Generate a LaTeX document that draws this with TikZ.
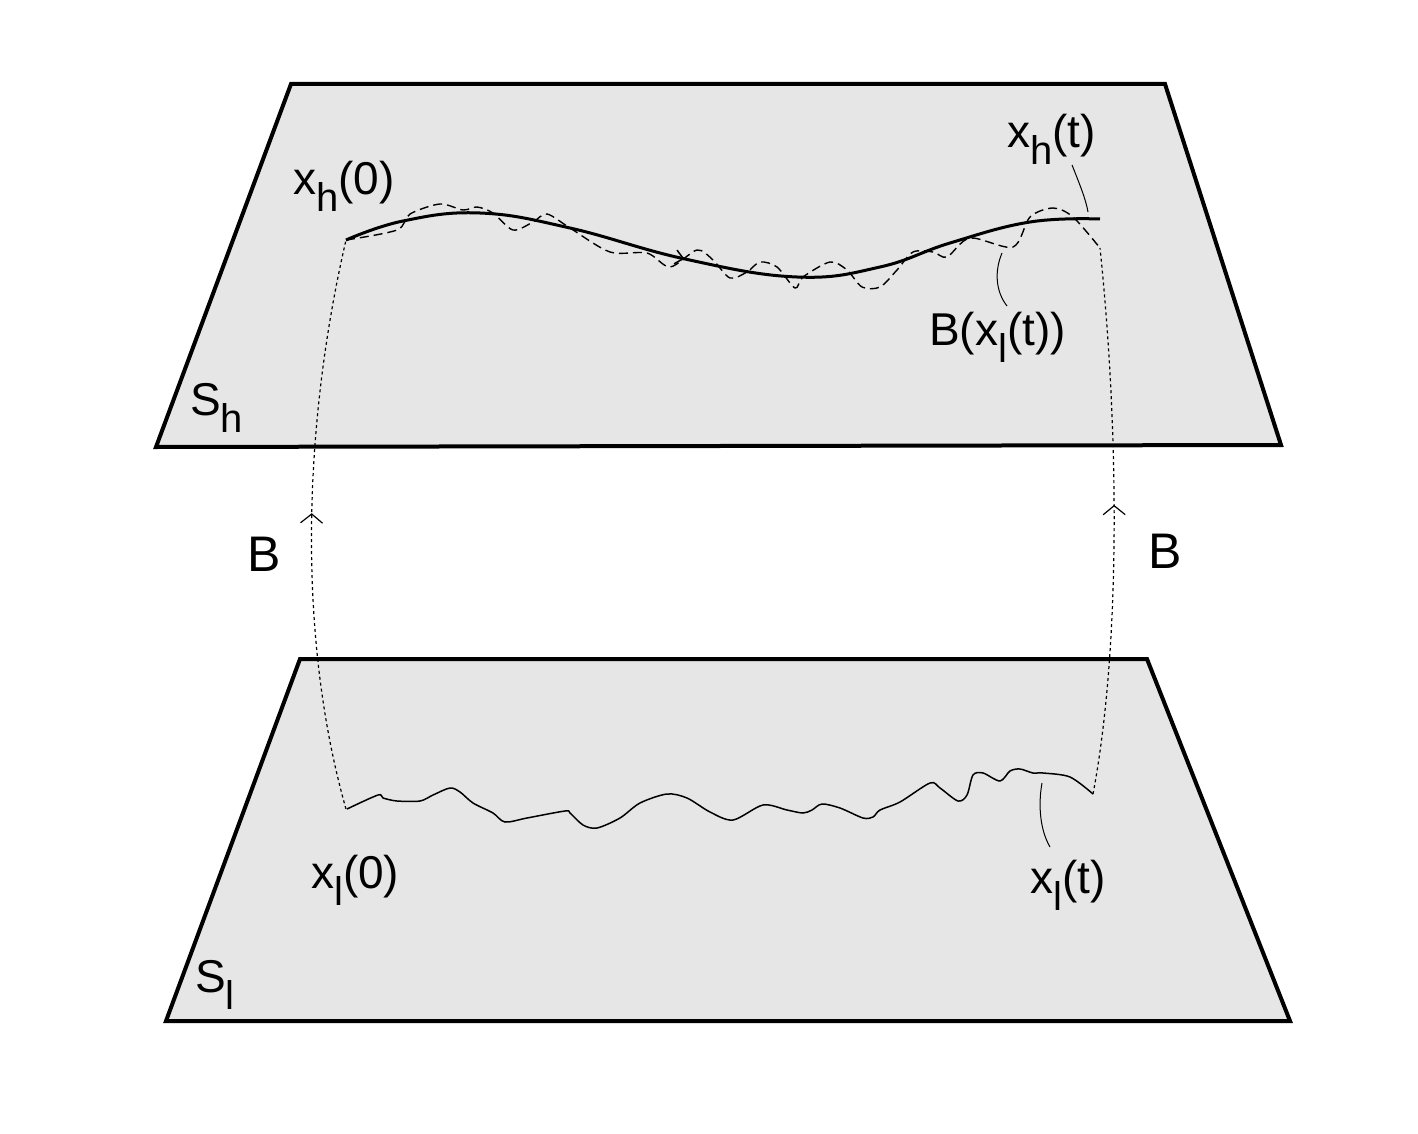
\documentclass[tikz,border=0pt]{standalone}
\usepackage{fontspec}
\setmainfont{Liberation Sans}
\usetikzlibrary{arrows.meta,decorations.markings}
\newcommand{\lowsub}[1]{\raisebox{-17pt}{\fontsize{40}{40}\selectfont #1}}
\tikzset{
  plane/.style={draw=black,fill=planegray,line width=4pt,line join=miter},
  label/.style={anchor=base west,inner sep=0pt,font=\fontsize{46}{50}\selectfont},
  bigb/.style={anchor=base west,inner sep=0pt,font=\fontsize{50}{54}\selectfont},
  smoothcurve/.style={line width=3pt},
  noisy/.style={line width=1.4pt,dash pattern=on 9pt off 5pt},
  wiggle/.style={line width=1.5pt},
  mapline/.style={line width=1.2pt,dash pattern=on 3pt off 3pt},
  leader/.style={line width=1pt},
}
\definecolor{planegray}{HTML}{E6E6E6}
\begin{document}
\begin{tikzpicture}[x=1pt,y=-1pt]
\useasboundingbox (0,0) rectangle (1418,1134);
\fill[white] (0,0) rectangle (1418,1134);
% planes
\draw[plane] (291,84) -- (1165,84) -- (1281,445) -- (156,447) -- cycle;
\draw[plane] (300,659) -- (1147,659) -- (1290,1021) -- (166,1021) -- cycle;
% endpoints
\coordinate (h0) at (346,240);
\coordinate (ht) at (1100,219);
\coordinate (bt) at (1100,248);
\coordinate (l0) at (346,809);
\coordinate (lt) at (1093,794);
% smooth upper trajectory
\draw[smoothcurve,
  postaction={decorate,decoration={markings,mark=at position 0.45 with {\arrow[line width=1.5pt]{Straight Barb[length=8pt,width=14pt]}}}}]
  plot[smooth,tension=0.7] coordinates {(346,240) (403,221) (480,213) (570,228) (685,259) (797,277) (880,267) (950,243) (1030,222) (1100,219)};
% noisy mapped trajectory
\draw[noisy] plot[smooth,tension=0.5] coordinates {(346,240) (397,230) (410,214) (440,204) (463,210) (477,207) (493,213) (513,230) (533,222) (547,214) (570,228) (610,252) (647,253) (670,267) (697,250) (713,260) (730,278) (747,272) (760,262) (777,267) (795,288) (803,277) (830,262) (847,270) (862,287) (880,287) (897,270) (913,252) (933,252) (947,257) (970,238) (1013,247) (1030,217) (1053,208) (1073,217) (1100,248)};
% lower wiggly trajectory
\draw[wiggle] plot[smooth,tension=0.5] coordinates {(347,809) (378,795) (383,798) (397,801) (420,801) (433,795) (450,788) (460,792) (473,803) (493,813) (505,822) (527,818) (565,811) (570,813) (583,825) (597,828) (620,818) (640,803) (667,794) (687,798) (710,812) (733,820) (763,805) (787,810) (803,813) (812,810) (822,804) (840,808) (863,818) (873,817) (880,810) (900,802) (930,783) (940,788) (958,801) (967,795) (973,775) (983,773) (1000,781) (1010,771) (1020,769) (1033,773) (1043,773) (1070,777) (1093,794)};
% mapping B
\draw[mapline,
  postaction={decorate,decoration={markings,mark=at position 0.52 with {\arrow[line width=1.2pt]{Straight Barb[length=9pt,width=22pt]}}}}]
  (l0) .. controls (298,640) and (302,430) .. (h0);
\draw[mapline,
  postaction={decorate,decoration={markings,mark=at position 0.53 with {\arrow[line width=1.2pt]{Straight Barb[length=9pt,width=22pt]}}}}]
  (lt) .. controls (1122,640) and (1118,420) .. (bt);
% leaders
\draw[leader] (1072,165) .. controls (1080,185) and (1086,200) .. (1088,212);
\draw[leader] (1002,253) .. controls (994,272) and (996,292) .. (1007,306);
\draw[leader] (1042,783) .. controls (1038,805) and (1040,830) .. (1050,847);
% labels
\node[label] (lxh0) at (293,195) {x\lowsub{h}(0)};
\node[label] (lxht) at (1007,148) {x\lowsub{h}(t)};
\node[label] (lbxl) at (929,345) {B(x\lowsub{l}(t))};
\node[label] (lsh) at (190,415) {S\lowsub{h}};
\node[label] (lsl) at (195,992) {S\lowsub{l}};
\node[label] (lxl0) at (311,888) {x\lowsub{l}(0)};
\node[label] (lxlt) at (1030,893) {x\lowsub{l}(t)};
\node[bigb] (lbl) at (247,571) {B};
\node[bigb] (lbr) at (1148,568) {B};
\end{tikzpicture}
\end{document}
